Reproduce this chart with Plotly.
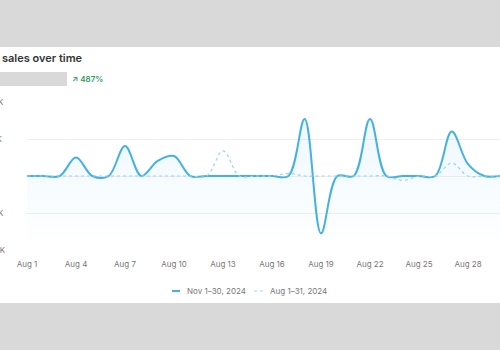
import plotly.graph_objects as go

# ---- data ----
dates_aug = [f"2024-08-{d:02d}" for d in range(1, 32)]
current_label = "Nov 1–30, 2024"
previous_label = "Aug 1–31, 2024"
# values in $K
current_sales = [0, 0, 0, 0.5, 0, 0, 0.81, 0, 0.41, 0.54,
                 0, 0, 0, 0, 0, 0, 0, 1.54, -1.55, 0,
                 0, 1.54, 0, 0, 0, 0, 1.2, 0.32, 0, 0]
previous_sales = [0, 0, 0, 0, 0, 0, 0, 0, 0, 0,
                  0, 0, 0.68, 0, 0, 0, 0.07, 0, 0, 0,
                  0, 0, 0, -0.12, 0, 0, 0.35, 0, 0, 0, 0]
y_tickvals = [-2, -1, 0, 1, 2]
y_ticktext = ["-$2K", "-$1K", "$0", "$1K", "$2K"]
title_text = "sales over time"
change_text = "↗ 487%"

W, H = 500, 350
L, R, T, B = 27, 0, 102, 100
PW, PH = W - L - R, H - T - B


def px(x):
    return (x - L) / PW


def py(y):
    return (H - B - y) / PH


LINE = "#45b1e1"
DOT = "#9ad3ee"
FONT = "Inter"

fig = go.Figure()

# baseline for gradient fill
fig.add_trace(go.Scatter(x=dates_aug[:len(current_sales)], y=[-2] * len(current_sales),
                         mode="lines", line=dict(width=0), hoverinfo="skip", showlegend=False))
fig.add_trace(go.Scatter(
    x=dates_aug[:len(current_sales)], y=current_sales, name=current_label,
    mode="lines", line=dict(color=LINE, width=2, shape="spline"),
    fill="tonexty",
    fillgradient=dict(type="vertical",
                      colorscale=[[0, "rgba(62,174,224,0.0)"], [1, "rgba(62,174,224,0.09)"]]),
    showlegend=False))
fig.add_trace(go.Scatter(
    x=dates_aug, y=previous_sales, name=previous_label,
    mode="lines", line=dict(color=DOT, width=1.2, dash="dot", shape="spline"),
    showlegend=False))

shapes = [
    # white card
    dict(type="rect", xref="paper", yref="paper", x0=px(-5), x1=px(505), y0=py(303), y1=py(47),
         fillcolor="white", line=dict(width=0), layer="below"),
    # placeholder gray box
    dict(type="rect", xref="paper", yref="paper", x0=px(-5), x1=px(67), y0=py(86), y1=py(72),
         fillcolor="#d9d9d9", line=dict(width=0), layer="below"),
    # legend samples
    dict(type="line", xref="paper", yref="paper", x0=px(172), x1=px(180), y0=py(291), y1=py(291),
         line=dict(color=LINE, width=2)),
    dict(type="line", xref="paper", yref="paper", x0=px(254), x1=px(263), y0=py(291), y1=py(291),
         line=dict(color=DOT, width=1.2, dash="dot")),
]

annotations = [
    dict(text=title_text, xref="paper", yref="paper", x=px(0), y=py(58), xanchor="left",
         yanchor="middle", showarrow=False, font=dict(family=FONT, size=11, color="#333333", weight=600)),
    dict(text=change_text, xref="paper", yref="paper", x=px(70), y=py(79), xanchor="left",
         yanchor="middle", showarrow=False, font=dict(family=FONT, size=8, color="#2e9e5e", weight=600)),
    dict(text=current_label, xref="paper", yref="paper", x=px(185), y=py(291), xanchor="left",
         yanchor="middle", showarrow=False, font=dict(family=FONT, size=8, color="#777777")),
    dict(text=previous_label, xref="paper", yref="paper", x=px(268), y=py(291), xanchor="left",
         yanchor="middle", showarrow=False, font=dict(family=FONT, size=8, color="#777777")),
]
for v, t in zip(y_tickvals, y_ticktext):
    annotations.append(dict(text=t, xref="paper", yref="y", x=px(-16 if v < 0 else -14.5), y=v,
                            xanchor="left", yanchor="middle", showarrow=False,
                            font=dict(family=FONT, size=8, color="#777777")))

fig.update_layout(
    width=W, height=H,
    margin=dict(l=L, r=R, t=T, b=B),
    paper_bgcolor="#d9d9d9",
    plot_bgcolor="rgba(0,0,0,0)",
    font=dict(family=FONT, size=8, color="#777777"),
    shapes=shapes,
    annotations=annotations,
    showlegend=False,
)
fig.update_xaxes(
    type="date", range=["2024-08-01", "2024-08-29 23:00"],
    tick0="2024-08-01", dtick=3 * 86400000, tickformat="%b %-d",
    showgrid=False, zeroline=False, showline=False, ticks="",
    ticklabelstandoff=8, tickfont=dict(family=FONT, size=8, color="#777777"),
)
fig.update_yaxes(
    range=[-2, 2], tickvals=y_tickvals, showticklabels=False,
    showgrid=True, gridcolor="#efefef", gridwidth=1, zeroline=False,
)

fig.write_html("out.html")
